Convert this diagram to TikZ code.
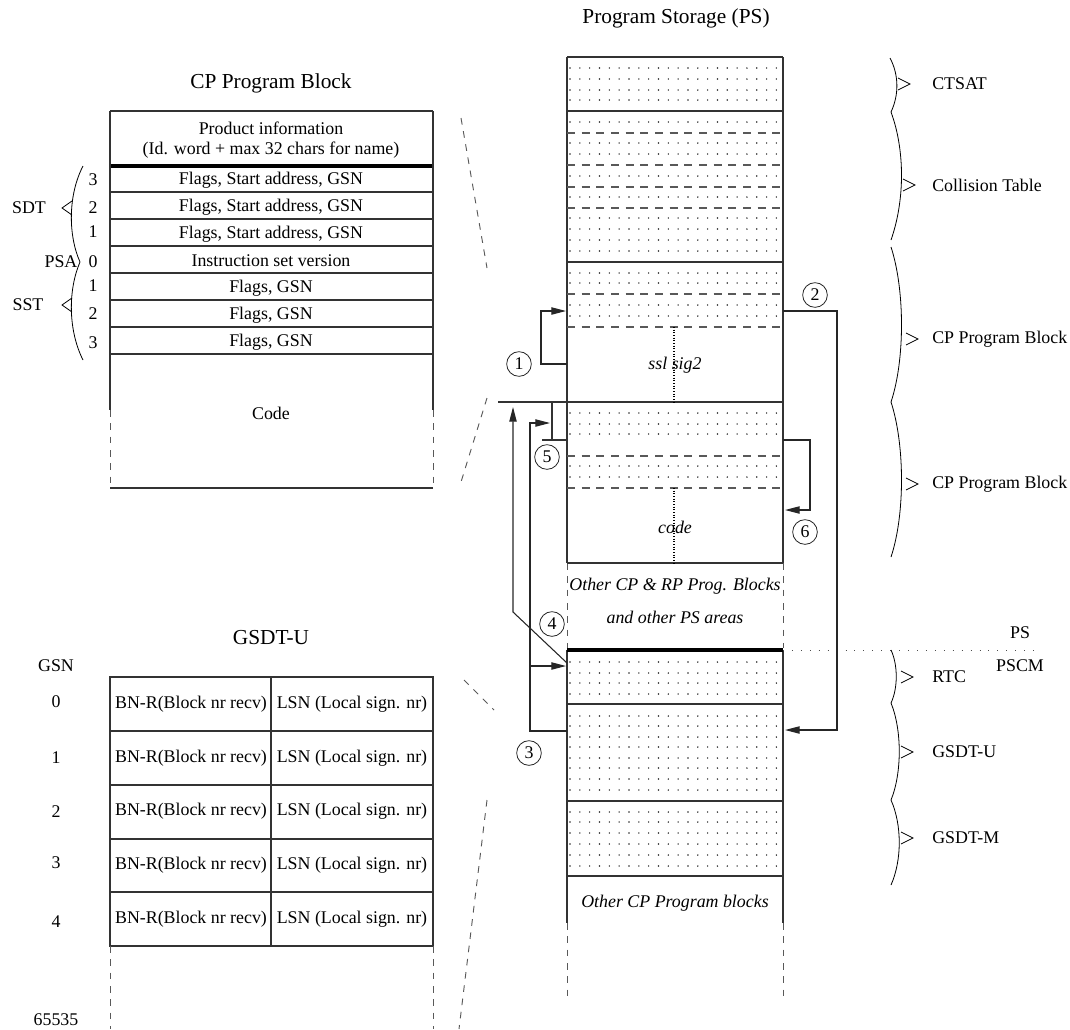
\documentclass[tikz,border=0pt]{standalone}
\usepackage{fontspec}
\setmainfont{Liberation Serif}
\usetikzlibrary{arrows.meta}
\newcommand\dotrows[1]{\foreach \yy in {#1}{\foreach \ii in {0,...,21}{\fill[black!85] ({570+\ii*9.83},\yy) circle (0.6pt);}}}
\begin{document}
\begin{tikzpicture}[x=0.75pt,y=-0.75pt,
  txt/.style={font=\fontsize{13.4}{16}\selectfont, inner sep=0pt},
  ttl/.style={font=\fontsize{16}{19}\selectfont, inner sep=0pt},
  itx/.style={font=\fontsize{13.4}{16}\selectfont\itshape, inner sep=0pt},
  ln/.style={draw=black!80, line width=0.8pt},
  dln/.style={draw=black!65, line width=0.8pt, dash pattern=on 6pt off 5pt},
  sdash/.style={draw=black!65, line width=0.7pt, dash pattern=on 5pt off 5pt},
  vdot/.style={draw=black, line width=1pt, dash pattern=on 0.8pt off 1.2pt},
  hdot/.style={draw=black!70, line width=0.7pt, dash pattern=on 0.7pt off 6pt},
  arr/.style={draw=black!85, line width=0.8pt, -{Triangle[length=11pt,width=5.5pt]}},
  cnum/.style={circle, draw=black!85, line width=0.6pt, minimum size=18.5pt, inner sep=0pt, font=\fontsize{13.4}{16}\selectfont},
  brc/.style={draw=black, line width=0.6pt},
]
\useasboundingbox (0,0) rectangle (1070,1029);

% ---------------- CP Program Block (left) ----------------
\node[ttl] (cptitle) at (271,83) {CP Program Block};
\draw[ln] (110,111) -- (433,111);
\draw[draw=black, line width=3pt] (110,165.5) -- (433,165.5);
\foreach \y in {192,219,246,273,300,327,354} \draw[ln] (110,\y) -- (433,\y);
\draw[ln] (110,111) -- (110,410);
\draw[ln] (433,111) -- (433,410);
\draw[sdash] (110,410) -- (110,488);
\draw[sdash] (433,410) -- (433,488);
\draw[ln] (110,488) -- (433,488);
\node[txt] (pi1) at (271,128) {Product information};
\node[txt] (pi2) at (271,150) {(Id. word + max 32 chars for name)};
\node[txt] (r1) at (271,180) {Flags, Start address, GSN};
\node[txt] (r2) at (271,207) {Flags, Start address, GSN};
\node[txt] (r3) at (271,234) {Flags, Start address, GSN};
\node[txt] (r4) at (271,261) {Instruction set version};
\node[txt] (r5) at (271,288) {Flags, GSN};
\node[txt] (r6) at (271,315) {Flags, GSN};
\node[txt] (r7) at (271,342) {Flags, GSN};
\node[txt] (codeL) at (271,413) {Code};
\node[txt] (n3a) at (93,180) {3};
\node[txt] (n2a) at (93,208) {2};
\node[txt] (n1a) at (93,232) {1};
\node[txt] (n0) at (93,262) {0};
\node[txt] (n1b) at (93,286) {1};
\node[txt] (n2b) at (93,314) {2};
\node[txt] (n3b) at (93,343) {3};
\node[txt] (sdt) at (29,208) {SDT};
\node[txt] (psa) at (61,262) {PSA};
\node[txt] (sst) at (28,305) {SST};
\draw[brc] (83,166) .. controls (68,195) and (68,235) .. (80,262) .. controls (68,290) and (68,330) .. (83,360);
\draw[brc] (72,201) -- (62,208) -- (72,215);
\draw[brc] (72,298) -- (62,305) -- (72,312);
\draw[sdash] (461,118) -- (487,268);
\draw[sdash] (487,398) -- (461,482);

% ---------------- GSDT-U table (left bottom) ----------------
\node[ttl] (gtitle) at (271,638) {GSDT-U};
\node[txt] (gsn) at (56,666) {GSN};
\draw[ln] (110,677) rectangle (433,946);
\foreach \y in {731,785,839,892} \draw[ln] (110,\y) -- (433,\y);
\draw[ln] (271,677) -- (271,946);
\foreach \y/\n/\c [count=\k] in {702/0/704, 758/1/758, 812/2/811.5, 863/3/865, 922/4/919}{
  \node[txt] (gn\k) at (56,\y) {\n};
  \node[txt] (bn\k) at (191,\c) {BN-R(Block nr recv)};
  \node[txt] (ls\k) at (352,\c) {LSN (Local sign. nr)};
}
\node[txt] (g65535) at (56,1020) {65535};
\draw[sdash] (110,946) -- (110,1029);
\draw[sdash] (433,946) -- (433,1029);
\draw[sdash] (464,680) -- (494,710);
\draw[sdash] (487,800) -- (459,1029);

% ---------------- Program Storage column ----------------
\node[ttl] (pstitle) at (676,18) {Program Storage (PS)};
\dotrows{68,79,90,100}
\dotrows{122,143,154,176,197,218,229,240,251}
\dotrows{273,283,305,316}
\dotrows{413,424,434,466,477}
\dotrows{662,673,683,694}
\dotrows{716,726,737,747,758,768,779,790}
\dotrows{812,822,833,844,855,866}
\draw[ln] (567,57) -- (567,563);
\draw[ln] (783,57) -- (783,563);
\draw[sdash] (567,563) -- (567,648);
\draw[sdash] (783,563) -- (783,648);
\draw[ln] (567,650) -- (567,923);
\draw[ln] (783,650) -- (783,923);
\draw[sdash] (567,923) -- (567,1000);
\draw[sdash] (783,923) -- (783,1000);
\foreach \y in {57,111,262,563,704,801,876} \draw[ln] (567,\y) -- (783,\y);
\draw[ln] (498,402) -- (783,402);
\draw[draw=black, line width=3pt] (567,650) -- (783,650);
\foreach \y in {133,165,187,208,294,327,456,488} \draw[dln] (567,\y) -- (783,\y);
\draw[vdot] (674,327) -- (674,402);
\draw[vdot] (674,488) -- (674,563);
\draw[hdot] (783,650) -- (1037,650);
\node[itx] (ssl) at (675,365) {ssl sig2};
\node[itx] (codeR) at (675,527) {code};
\node[itx] (oth1) at (675,586) {Other CP \& RP Prog. Blocks};
\node[itx] (oth2) at (675,617) {and other PS areas};
\node[itx] (oth3) at (675,903) {Other CP Program blocks};
\node[txt] (psl) at (1020,633) {PS};
\node[txt] (pscm) at (1020,666) {PSCM};

% ---------------- right braces ----------------
\draw[brc] (890,58) .. controls (899,75) and (899,95) .. (891,112);
\draw[brc] (891,112) .. controls (905,150) and (905,200) .. (891,240);
\draw[brc] (891,247) .. controls (905,290) and (905,360) .. (891,402);
\draw[brc] (891,402) .. controls (905,445) and (905,515) .. (891,557);
\draw[brc] (891,650) .. controls (898,665) and (898,688) .. (891,703);
\draw[brc] (891,703) .. controls (902,730) and (902,773) .. (891,800);
\draw[brc] (891,800) .. controls (902,825) and (902,860) .. (891,885);
\draw[brc] (898,78) -- (910,84) -- (898,90);
\draw[brc] (903,179) -- (915,185) -- (903,191);
\draw[brc] (906,333) -- (918,339) -- (906,345);
\draw[brc] (906,478) -- (918,484) -- (906,490);
\draw[brc] (901,671) -- (913,677) -- (901,683);
\draw[brc] (901,746) -- (913,752) -- (901,758);
\draw[brc] (901,832) -- (913,838) -- (901,844);
\node[txt, anchor=west] (lctsat) at (932,84) {CTSAT};
\node[txt, anchor=west] (lcoll) at (932,185) {Collision Table};
\node[txt, anchor=west] (lcp1) at (932,339) {CP Program Block};
\node[txt, anchor=west] (lcp2) at (932,484) {CP Program Block};
\node[txt, anchor=west] (lrtc) at (932,677) {RTC};
\node[txt, anchor=west] (lgu) at (932,752) {GSDT-U};
\node[txt, anchor=west] (lgm) at (932,838) {GSDT-M};

% ---------------- arrows ----------------
\coordinate (a1s) at (567,364);
\coordinate (a1e) at (566,311);
\coordinate (a2s) at (783,311);
\coordinate (a2e) at (785,730);
\coordinate (a6s) at (783,440);
\coordinate (a6e) at (785,510);
\coordinate (a5s) at (567,440);
\coordinate (a5e) at (552,402);
\coordinate (a4s) at (567,663);
\coordinate (a4e) at (513,407);
\coordinate (a3s) at (567,731);
\coordinate (a3e) at (550,423);
\coordinate (a3b) at (530,666);
\coordinate (a3c) at (566,666);
\draw[arr] (a1s) -- (541,364) -- (541,311) -- (a1e);
\draw[arr] (a2s) -- (837,311) -- (837,730) -- (a2e);
\draw[arr] (a6s) -- (810,440) -- (810,510) -- (a6e);
\draw[ln] (a5s) -- (542,440);
\draw[ln] (552,440) -- (a5e);
\draw[arr] (a4s) -- (513,612) -- (a4e);
\draw[arr] (a3s) -- (530,731) -- (530,423) -- (a3e);
\draw[arr] (a3b) -- (a3c);
\node[cnum] (c1) at (519,364) {1};
\node[cnum] (c2) at (815,295) {2};
\node[cnum] (c3) at (529,753) {3};
\node[cnum] (c4) at (552,624) {4};
\node[cnum] (c5) at (547,457) {5};
\node[cnum] (c6) at (805,532) {6};
\end{tikzpicture}
\end{document}
